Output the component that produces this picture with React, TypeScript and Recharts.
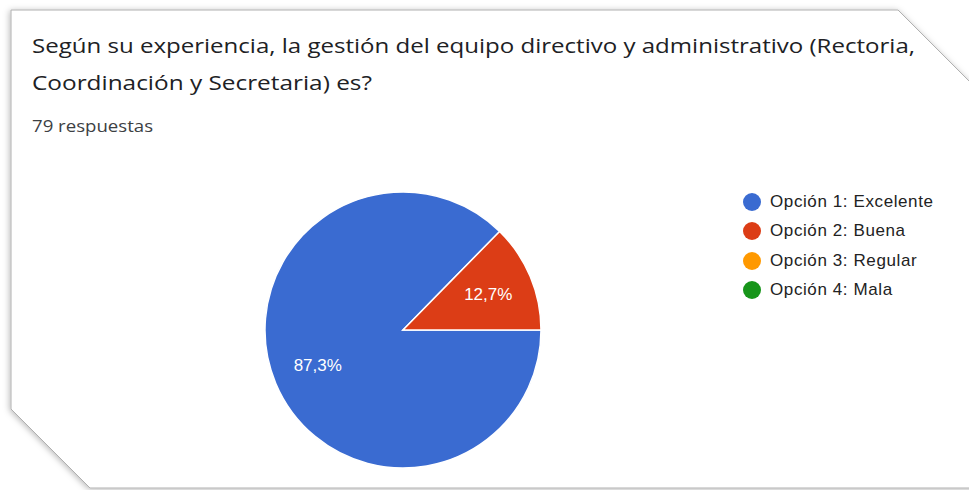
import React from 'react';
import { PieChart, Pie, Cell, Legend } from 'recharts';

const TITLE_LINES = [
  'Según su experiencia, la gestión del equipo directivo y administrativo (Rectoria,',
  'Coordinación y Secretaria) es?',
];
const RESPONSES_LABEL = '79 respuestas';

const CATEGORIES = ['Opción 1: Excelente', 'Opción 2: Buena', 'Opción 3: Regular', 'Opción 4: Mala'];
const COUNTS = [69, 10, 0, 0];
const COLORS = ['#3a6bd1', '#dc3d16', '#ff9900', '#17951a'];

const W = 969;
const H = 490;

const data = CATEGORIES.map((name, i) => ({ name, value: COUNTS[i], color: COLORS[i] }));
const pieData = data.filter(d => d.value > 0);

const RAD = Math.PI / 180;

function SliceLabel({ cx, cy, midAngle, outerRadius, percent }: any) {
  const r = outerRadius * 0.67;
  const x = cx + r * Math.cos(-midAngle * RAD);
  const y = cy + r * Math.sin(-midAngle * RAD);
  const txt = `${(percent * 100).toFixed(1).replace('.', ',')}%`;
  return (
    <text
      x={x}
      y={y}
      fill="#ffffff"
      textAnchor="middle"
      dominantBaseline="central"
      style={{ fontFamily: '"Liberation Sans", Arial, sans-serif', fontSize: 17 }}
    >
      {txt}
    </text>
  );
}

function LegendContent() {
  return (
    <div style={{ fontFamily: '"Liberation Sans", Arial, sans-serif' }}>
      {data.map(d => (
        <div key={d.name} style={{ display: 'flex', alignItems: 'center', height: 29.5 }}>
          <span
            style={{
              display: 'inline-block',
              width: 18,
              height: 18,
              borderRadius: 9,
              background: d.color,
              marginRight: 9,
            }}
          />
          <span style={{ fontSize: 17, color: '#222222', letterSpacing: 0.6, whiteSpace: 'nowrap' }}>
            {d.name}
          </span>
        </div>
      ))}
    </div>
  );
}

export default function App() {
  return (
    <div style={{ position: 'absolute', left: 0, top: 0, width: W, height: H, background: '#ffffff', overflow: 'hidden' }}>
      {/* card with clipped corners */}
      <svg width={W} height={H} style={{ position: 'absolute', left: 0, top: 0 }}>
        <defs>
          <filter id="shadow" x="-5%" y="-5%" width="110%" height="110%">
            <feDropShadow dx="-1" dy="1" stdDeviation="3" floodColor="#000" floodOpacity="0.28" />
          </filter>
        </defs>
        <polygon
          points="11,10 898,10 978,90 978,488 90,488 11,409"
          fill="#ffffff"
          stroke="#b0b0b0"
          strokeWidth={1}
          filter="url(#shadow)"
        />
        <g style={{ fontFamily: '"Open Sans", Roboto, sans-serif' }}>
          <text x={32} y={53} fontSize={20} fill="#202124" textLength={883} lengthAdjust="spacingAndGlyphs">
            {TITLE_LINES[0]}
          </text>
          <text x={32} y={90} fontSize={20} fill="#202124" textLength={340} lengthAdjust="spacingAndGlyphs">
            {TITLE_LINES[1]}
          </text>
          <text x={32} y={132} fontSize={16} fill="#3c4043" textLength={121} lengthAdjust="spacingAndGlyphs">
            {RESPONSES_LABEL}
          </text>
        </g>
      </svg>
      <div style={{ position: 'absolute', left: 0, top: 0 }}>
        <PieChart width={W} height={H} margin={{ top: 0, right: 0, bottom: 0, left: 0 }}>
          <Pie
            data={pieData}
            dataKey="value"
            nameKey="name"
            cx={403}
            cy={330}
            outerRadius={138}
            startAngle={45.57}
            endAngle={405.57}
            stroke="#ffffff"
            strokeWidth={1.5}
            label={SliceLabel}
            labelLine={false}
            isAnimationActive={false}
          >
            {pieData.map(d => (
              <Cell key={d.name} fill={d.color} />
            ))}
          </Pie>
          <Legend
            layout="vertical"
            content={LegendContent}
            wrapperStyle={{ left: 743, top: 187, width: 220 }}
          />
        </PieChart>
      </div>
    </div>
  );
}
